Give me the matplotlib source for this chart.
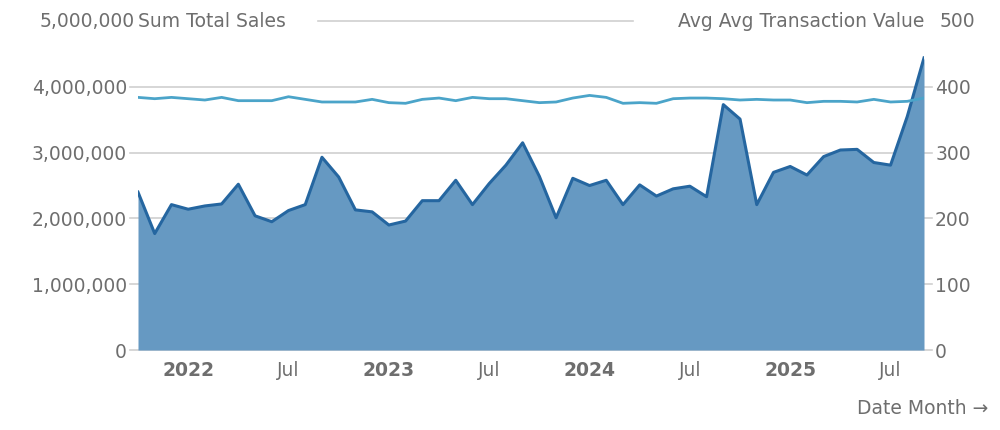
import matplotlib.pyplot as plt
import numpy as np

months = [f"{y}-{m:02d}" for y in range(2021, 2026) for m in range(1, 13)][9:57]
sales = [2.40, 1.77, 2.21, 2.14, 2.19, 2.22, 2.52, 2.04, 1.95, 2.12, 2.21, 2.93,
         2.63, 2.13, 2.10, 1.90, 1.96, 2.27, 2.27, 2.58, 2.21, 2.53, 2.81, 3.15,
         2.64, 2.01, 2.61, 2.50, 2.58, 2.21, 2.51, 2.34, 2.45, 2.49, 2.33, 3.73,
         3.51, 2.21, 2.70, 2.79, 2.66, 2.94, 3.04, 3.05, 2.85, 2.81, 3.55, 4.44]
sales = [v * 1e6 for v in sales]
avg_value = [384, 382, 384, 382, 380, 384, 379, 379, 379, 385, 381, 377,
             377, 377, 381, 376, 375, 381, 383, 379, 384, 382, 382, 379,
             376, 377, 383, 387, 384, 375, 376, 375, 382, 383, 383, 382,
             380, 381, 380, 380, 376, 378, 378, 377, 381, 377, 378, 383]
tick_pos = [3, 9, 15, 21, 27, 33, 39, 45]
tick_labels = ["2022", "Jul", "2023", "Jul", "2024", "Jul", "2025", "Jul"]

grey = "#6e6e6e"
x = np.arange(len(months))

fig = plt.figure(figsize=(10, 4.3), dpi=100)
ax = fig.add_axes([0.138, 0.186, 0.786, 0.765])
ax2 = ax.twinx()

ax.fill_between(x, sales, color="#6699c2", lw=0)
ax.plot(x, sales, color="#2566a0", lw=2.2)
ax2.plot(x, avg_value, color="#4ba4c9", lw=2)

ax.set_xlim(0, len(months) - 1)
ax.set_ylim(0, 5e6)
ax2.set_ylim(0, 500)
ax.set_yticks(np.arange(0, 5e6 + 1, 1e6))
ax.set_yticklabels([f"{int(v):,}" for v in np.arange(0, 5e6 + 1, 1e6)])
ax2.set_yticks(np.arange(0, 501, 100))
ax.set_xticks(tick_pos)
ax.set_xticklabels(tick_labels)
for lab in ax.get_xticklabels():
    if lab.get_text().isdigit():
        lab.set_fontweight("bold")

for a in (ax, ax2):
    for s in a.spines.values():
        s.set_visible(False)
    a.tick_params(length=0, labelsize=13.5, colors=grey)
ax.tick_params(axis="y", pad=8)
ax2.tick_params(axis="y", pad=8)
ax.tick_params(axis="x", pad=8)

for v in np.arange(0, 4e6 + 1, 1e6):
    ax.axhline(v, color="#d0d0d0", lw=1.2, zorder=0, xmin=-0.01, xmax=1.01, clip_on=False)
ax.set_axisbelow(True)
ax.plot([0.229, 0.630], [1, 1], transform=ax.transAxes, color="#d0d0d0", lw=1.2, clip_on=False)

ax.text(-0.0, 1.0, "Sum Total Sales", transform=ax.transAxes, ha="left", va="center",
        fontsize=13.5, color=grey)
ax2.text(1.0, 1.0, "Avg Avg Transaction Value", transform=ax.transAxes, ha="right",
         va="center", fontsize=13.5, color=grey)
ax.set_yticklabels([f"{int(v):,}" for v in np.arange(0, 5e6, 1e6)] + [""])
ax2.set_yticklabels([str(v) for v in range(0, 500, 100)] + [""])
fig.text(0.135, 0.951, "5,000,000", ha="right", va="center", fontsize=13.5, color=grey)
fig.text(0.940, 0.951, "500", ha="left", va="center", fontsize=13.5, color=grey)
fig.text(0.988, 0.05, "Date Month \u2192", ha="right", va="center", fontsize=13.5, color=grey)

fig.savefig("out.png")
